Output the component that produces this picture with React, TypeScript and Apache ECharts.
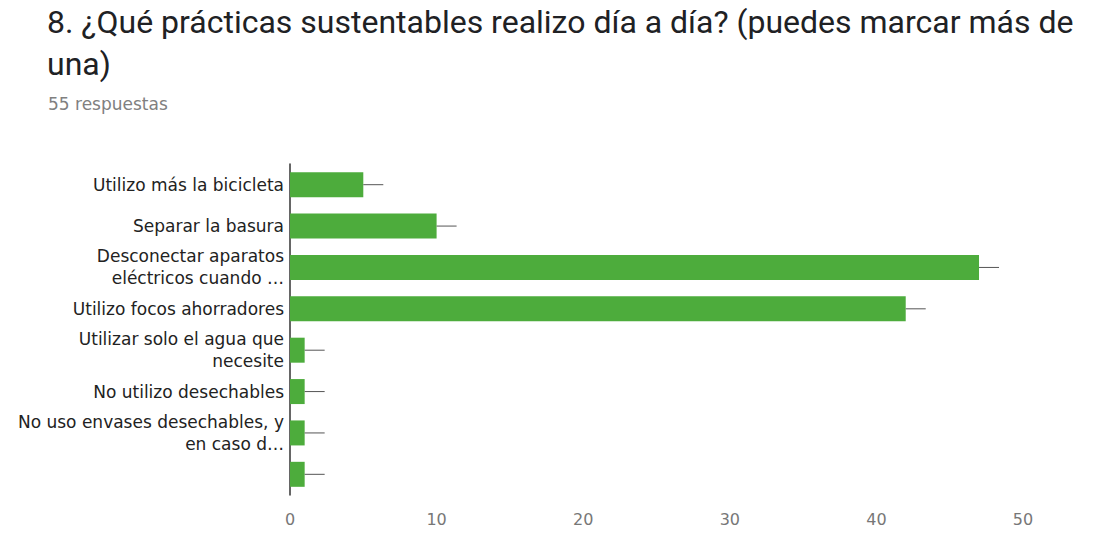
import React, { useEffect, useRef } from "react";
import * as echarts from "echarts";

const titleLines = [
  "8. ¿Qué prácticas sustentables realizo día a día? (puedes marcar más de",
  "una)",
];
const subtitle = "55 respuestas";
const categories = [
  "Utilizo más la bicicleta",
  "Separar la basura",
  "Desconectar aparatos\neléctricos cuando …",
  "Utilizo focos ahorradores",
  "Utilizar solo el agua que\nnecesite",
  "No utilizo desechables",
  "No uso envases desechables, y\nen caso d…",
  "",
];
const counts = [5, 10, 47, 42, 1, 1, 1, 1];
const xTicks = { min: 0, max: 50, interval: 10 };

export default function App() {
  const ref = useRef<HTMLDivElement>(null);
  useEffect(() => {
    document.body.style.margin = "0";
    const chart = echarts.init(ref.current!, null, { renderer: "svg" });
    chart.setOption({
      animation: false,
      backgroundColor: "#ffffff",
      graphic: [
        {
          type: "text",
          x: 47,
          y: 6,
          style: {
            text: titleLines[0],
            font: "32px Roboto",
            fill: "#202124",
            verticalAlign: "top",
          },
        },
        {
          type: "text",
          x: 47,
          y: 48,
          style: {
            text: titleLines[1],
            font: "32px Roboto",
            fill: "#202124",
            verticalAlign: "top",
          },
        },
        {
          type: "text",
          x: 48,
          y: 95,
          style: {
            text: subtitle,
            font: "17px 'DejaVu Sans'",
            fill: "#808080",
            verticalAlign: "top",
          },
        },
      ],
      grid: { left: 290, right: 70, top: 164, bottom: 51 },
      xAxis: {
        type: "value",
        min: xTicks.min,
        max: xTicks.max,
        interval: xTicks.interval,
        axisLine: { show: false },
        axisTick: { show: false },
        splitLine: { show: false },
        axisLabel: { color: "#777", fontSize: 16, margin: 16, fontFamily: "DejaVu Sans" },
      },
      yAxis: {
        type: "category",
        inverse: true,
        data: categories,
        axisTick: { show: false },
        axisLine: { show: true, lineStyle: { color: "#333", width: 1.5 } },
        axisLabel: {
          color: "#222",
          fontSize: 17,
          lineHeight: 22,
          margin: 6,
          fontFamily: "DejaVu Sans",
          align: "right",
        },
      },
      series: [
        {
          type: "bar",
          data: counts,
          barWidth: 25,
          itemStyle: { color: "#4dac3c" },
        },
        {
          type: "custom",
          data: counts.map((v, i) => [v, i]),
          encode: { x: 0, y: 1 },
          renderItem: (params: any, api: any) => {
            const p = api.coord([api.value(0), api.value(1)]);
            return {
              type: "line",
              shape: { x1: p[0], y1: p[1], x2: p[0] + 20, y2: p[1] },
              style: { stroke: "#555", lineWidth: 1 },
            };
          },
          z: 3,
        },
      ],
    });
    return () => chart.dispose();
  }, []);
  return <div ref={ref} style={{ width: 1093, height: 546 }} />;
}
